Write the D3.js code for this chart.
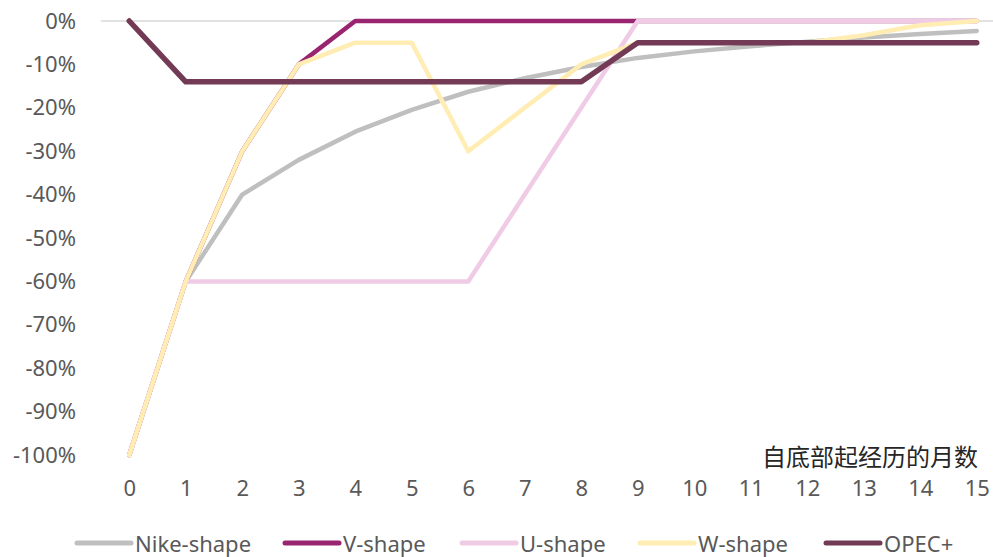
<!DOCTYPE html>
<html>
<head>
<meta charset="utf-8">
<script src="https://cdn.jsdelivr.net/npm/d3@7"></script>
<style>
  html, body { margin: 0; padding: 0; background: #fff; }
  svg { display: block; }
  text { font-family: "Noto Sans", "Open Sans", sans-serif; }
</style>
</head>
<body>
<svg id="chart" width="993" height="557"></svg>
<script>
// Months since the bottom
const months = [0, 1, 2, 3, 4, 5, 6, 7, 8, 9, 10, 11, 12, 13, 14, 15];

// Recovery paths, % drawdown from previous level
const nikeShape = [-100, -60, -40, -32, -25.5, -20.5, -16.3, -13.2, -10.6, -8.5, -7, -5.8, -4.8, -3.8, -3, -2.3];
const vShape    = [-100, -60, -30, -10, 0, 0, 0, 0, 0, 0, 0, 0, 0, 0, 0, 0];
const uShape    = [-100, -60, -60, -60, -60, -60, -60, -40, -20, 0, 0, 0, 0, 0, 0, 0];
const wShape    = [-100, -60, -30, -10, -5, -5, -30, -20, -10, -5, -5, -5, -5, -3.3, -1, 0];
const opecPlus  = [0, -14, -14, -14, -14, -14, -14, -14, -14, -5, -5, -5, -5, -5, -5, -5];

const seriesNames = ["Nike-shape", "V-shape", "U-shape", "W-shape", "OPEC+"];
const seriesValues = [nikeShape, vShape, uShape, wShape, opecPlus];
const seriesColors = ["#BFBFBF", "#992470", "#F0CBE5", "#FFEDB3", "#733A55"];

const yTicks = [0, -10, -20, -30, -40, -50, -60, -70, -80, -90, -100];
const xTitle = "自底部起经历的月数";

const svg = d3.select("#chart");

// Category axis: points sit in the middle of 16 equal bands
const plotLeft = 101, plotRight = 1005;
const x = d3.scalePoint()
  .domain(months)
  .range([plotLeft, plotRight])
  .padding(0.5);
const y = d3.scaleLinear().domain([-100, 0]).range([455, 21]);

// Zero reference line
svg.append("line")
  .attr("x1", plotLeft).attr("x2", 993)
  .attr("y1", y(0)).attr("y2", y(0))
  .attr("stroke", "#D9D9D9").attr("stroke-width", 1.5);

// Y axis labels
const yAxis = d3.axisLeft(y)
  .tickValues(yTicks)
  .tickFormat(d => d + "%")
  .tickSize(0)
  .tickPadding(0);
const gy = svg.append("g").attr("transform", "translate(76,0)").call(yAxis);
gy.select(".domain").remove();
gy.selectAll("text")
  .attr("fill", "#595959")
  .style("font-size", "22px")
  .style("font-family", "'Noto Sans', sans-serif");

// X axis labels
const xAxis = d3.axisBottom(x).tickSize(0).tickPadding(0);
const gx = svg.append("g").attr("transform", "translate(0,480)").call(xAxis);
gx.select(".domain").remove();
gx.selectAll("text")
  .attr("fill", "#595959")
  .attr("dy", "0.71em")
  .style("font-size", "22px")
  .style("font-family", "'Noto Sans', sans-serif");

// Axis title
svg.append("text")
  .attr("x", 978).attr("y", 455)
  .attr("text-anchor", "end")
  .attr("dominant-baseline", "central")
  .attr("fill", "#262626")
  .style("font-family", "'Noto Sans CJK SC', sans-serif")
  .style("font-size", "24px")
  .text(xTitle);

// Series lines
const line = d3.line()
  .x((d, i) => x(months[i]))
  .y(d => y(d));

svg.append("g").selectAll("path")
  .data(seriesValues)
  .join("path")
  .attr("d", d => line(d))
  .attr("fill", "none")
  .attr("stroke", (d, i) => seriesColors[i])
  .attr("stroke-width", (d, i) => i === 4 ? 5.5 : 4.5)
  .attr("stroke-linecap", "round")
  .attr("stroke-linejoin", "round");

// Legend
const legendX = [77, 285, 462, 640, 826];
const legend = svg.append("g").selectAll("g")
  .data(seriesNames)
  .join("g")
  .attr("transform", (d, i) => `translate(${legendX[i]},543)`);
legend.append("line")
  .attr("x1", 0).attr("x2", 54)
  .attr("stroke", (d, i) => seriesColors[i])
  .attr("stroke-width", 5)
  .attr("stroke-linecap", "round");
legend.append("text")
  .attr("x", 58)
  .attr("dominant-baseline", "central")
  .attr("fill", "#595959")
  .style("font-size", "22px")
  .text(d => d);
</script>
</body>
</html>
